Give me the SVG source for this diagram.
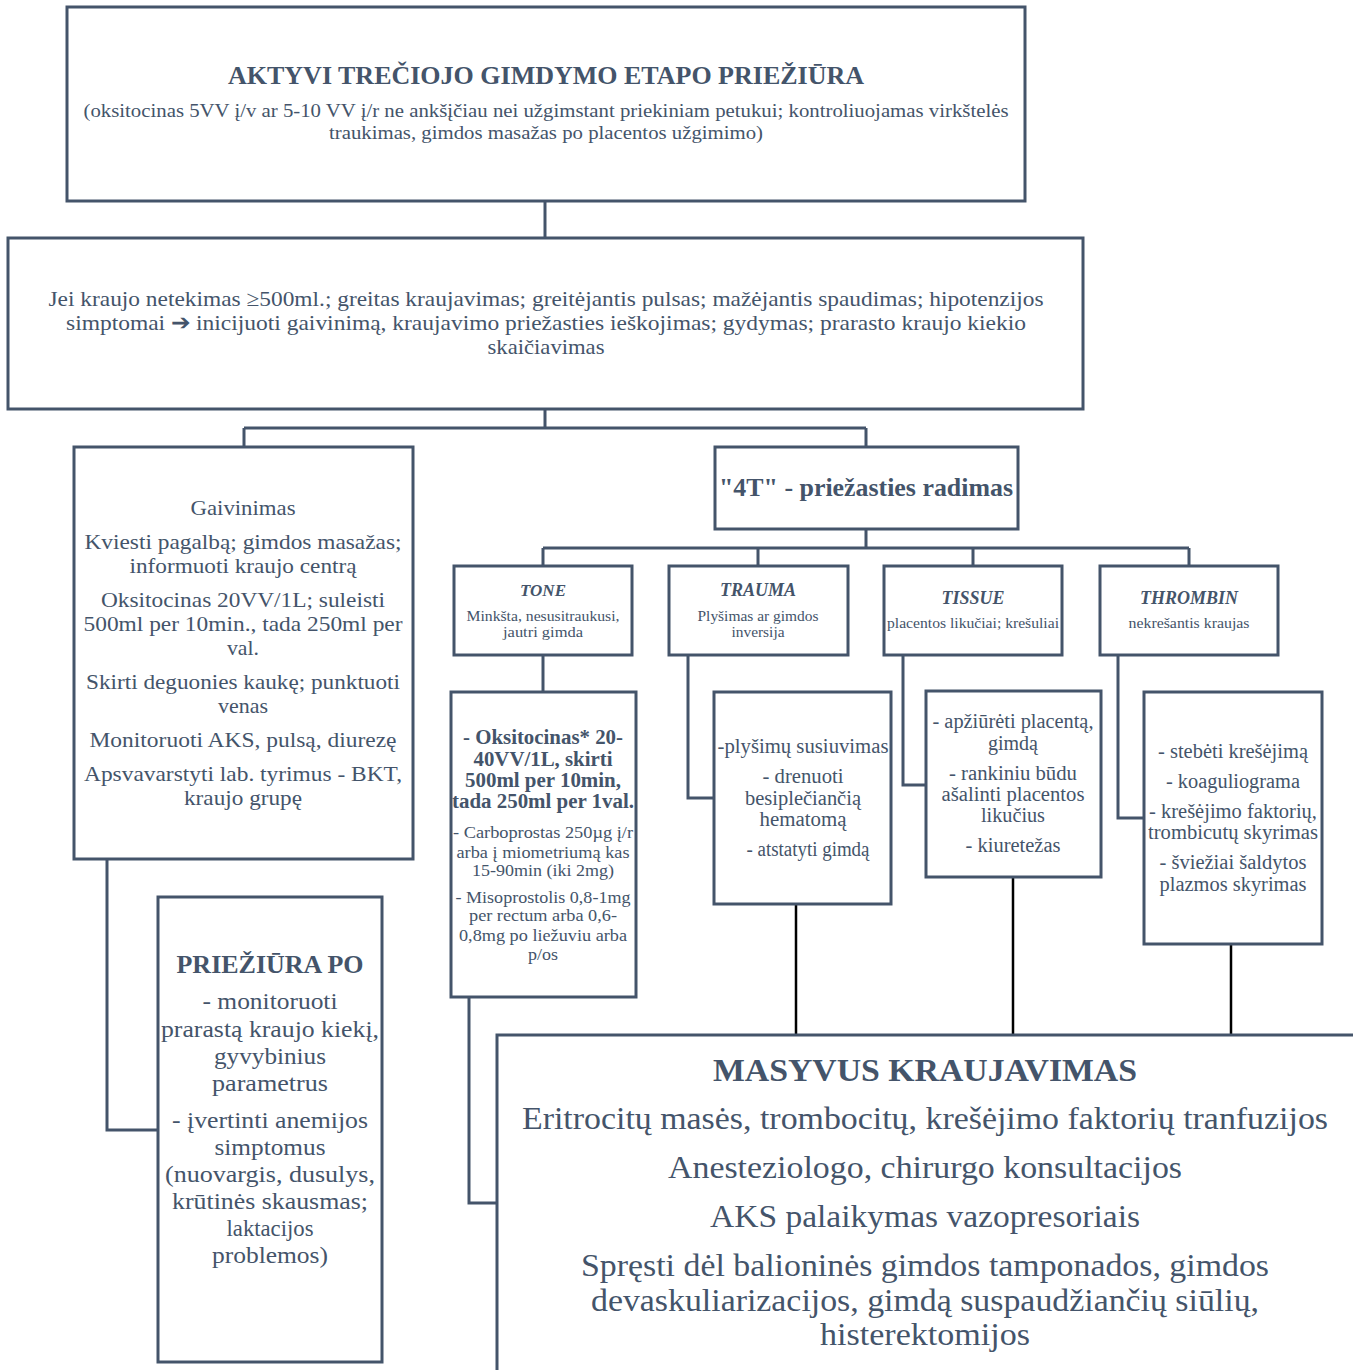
<svg xmlns="http://www.w3.org/2000/svg" width="1353" height="1370" viewBox="0 0 1353 1370">
<style>
.box{fill:#fff;stroke:#44546A;stroke-width:3}
.ln{fill:none;stroke:#44546A;stroke-width:3}
.lk{fill:none;stroke:#000;stroke-width:2.5}
text{font-family:"Liberation Serif","Times New Roman",serif;fill:#44546A;text-anchor:middle}
.b{font-weight:bold}
.bi{font-weight:bold;font-style:italic}
</style>
<rect width="1353" height="1370" fill="#fff"/>
<g id="connectors">
<path class="ln" d="M545 201V238"/>
<path class="ln" d="M545 409V428M244 428H866M244 428V447M866 428V447"/>
<path class="ln" d="M866 529V548M543 548H1189M543 548V566M758 548V566M973 548V566M1189 548V566"/>
<path class="ln" d="M543 655V692"/>
<path class="ln" d="M688 655V798H714"/>
<path class="ln" d="M903 655V785H926"/>
<path class="ln" d="M1118 655V818H1144"/>
<path class="ln" d="M107 859V1130H158"/>
<path class="ln" d="M469 997V1203H497"/>
<path class="lk" d="M796 904V1035M1013 877V1035M1231 944V1035"/>
</g>
<g id="top">
<rect class="box" x="67" y="7" width="958" height="194"/>
<text class="b" x="546" y="84" font-size="25" textLength="636" lengthAdjust="spacingAndGlyphs">AKTYVI TREČIOJO GIMDYMO ETAPO PRIEŽIŪRA</text>
<text x="546" y="117" font-size="19.5" textLength="925" lengthAdjust="spacingAndGlyphs">(oksitocinas 5VV į/v ar 5-10 VV į/r ne ankšįčiau nei užgimstant priekiniam petukui; kontroliuojamas virkštelės</text>
<text x="546" y="139" font-size="19.5" textLength="434" lengthAdjust="spacingAndGlyphs">traukimas, gimdos masažas po placentos užgimimo)</text>
</g>
<g id="criteria">
<rect class="box" x="8" y="238" width="1075" height="171"/>
<text x="546" y="306" font-size="22" textLength="995" lengthAdjust="spacingAndGlyphs">Jei kraujo netekimas ≥500ml.; greitas kraujavimas; greitėjantis pulsas; mažėjantis spaudimas; hipotenzijos</text>
<text x="546" y="330" font-size="22" textLength="960" lengthAdjust="spacingAndGlyphs">simptomai ➔ inicijuoti gaivinimą, kraujavimo priežasties ieškojimas; gydymas; prarasto kraujo kiekio</text>
<text x="546" y="354" font-size="22" textLength="117" lengthAdjust="spacingAndGlyphs">skaičiavimas</text>
</g>
<g id="gaivinimas">
<rect class="box" x="74" y="447" width="339" height="412"/>
<g font-size="22">
<text x="243" y="515" textLength="105" lengthAdjust="spacingAndGlyphs">Gaivinimas</text>
<text x="243" y="549" textLength="317" lengthAdjust="spacingAndGlyphs">Kviesti pagalbą; gimdos masažas;</text>
<text x="243" y="573" textLength="227" lengthAdjust="spacingAndGlyphs">informuoti kraujo centrą</text>
<text x="243" y="607" textLength="284" lengthAdjust="spacingAndGlyphs">Oksitocinas 20VV/1L; suleisti</text>
<text x="243" y="631" textLength="319" lengthAdjust="spacingAndGlyphs">500ml per 10min., tada 250ml per</text>
<text x="243" y="655" textLength="32" lengthAdjust="spacingAndGlyphs">val.</text>
<text x="243" y="689" textLength="314" lengthAdjust="spacingAndGlyphs">Skirti deguonies kaukę; punktuoti</text>
<text x="243" y="713" textLength="50" lengthAdjust="spacingAndGlyphs">venas</text>
<text x="243" y="747" textLength="307" lengthAdjust="spacingAndGlyphs">Monitoruoti AKS, pulsą, diurezę</text>
<text x="243" y="781" textLength="318" lengthAdjust="spacingAndGlyphs">Apsvavarstyti lab. tyrimus - BKT,</text>
<text x="243" y="805" textLength="118" lengthAdjust="spacingAndGlyphs">kraujo grupę</text>
</g>
</g>
<g id="fourT">
<rect class="box" x="715" y="447" width="303" height="82"/>
<text class="b" x="866" y="496" font-size="26" textLength="294" lengthAdjust="spacingAndGlyphs">"4T" - priežasties radimas</text>
</g>
<g id="tone">
<rect class="box" x="454" y="566" width="178" height="89"/>
<text class="bi" x="543" y="596" font-size="17">TONE</text>
<text x="543" y="621" font-size="15.5" textLength="153" lengthAdjust="spacingAndGlyphs">Minkšta, nesusitraukusi,</text>
<text x="543" y="637" font-size="15.5" textLength="80" lengthAdjust="spacingAndGlyphs">jautri gimda</text>
</g>
<g id="trauma">
<rect class="box" x="669" y="566" width="179" height="89"/>
<text class="bi" x="758" y="596" font-size="18">TRAUMA</text>
<text x="758" y="621" font-size="15.5" textLength="121" lengthAdjust="spacingAndGlyphs">Plyšimas ar gimdos</text>
<text x="758" y="637" font-size="15.5" textLength="53" lengthAdjust="spacingAndGlyphs">inversija</text>
</g>
<g id="tissue">
<rect class="box" x="884" y="566" width="178" height="89"/>
<text class="bi" x="973" y="604" font-size="18">TISSUE</text>
<text x="973" y="628" font-size="15.5" textLength="172" lengthAdjust="spacingAndGlyphs">placentos likučiai; krešuliai</text>
</g>
<g id="thrombin">
<rect class="box" x="1100" y="566" width="178" height="89"/>
<text class="bi" x="1189" y="604" font-size="18">THROMBIN</text>
<text x="1189" y="628" font-size="15.5" textLength="121" lengthAdjust="spacingAndGlyphs">nekrešantis kraujas</text>
</g>
<g id="tone-action">
<rect class="box" x="451" y="692" width="185" height="305"/>
<g class="b" font-size="20">
<text x="543" y="744" textLength="160" lengthAdjust="spacingAndGlyphs">- Oksitocinas* 20-</text>
<text x="543" y="766" textLength="139" lengthAdjust="spacingAndGlyphs">40VV/1L, skirti</text>
<text x="543" y="787" textLength="156" lengthAdjust="spacingAndGlyphs">500ml per 10min,</text>
<text x="543" y="808" textLength="182" lengthAdjust="spacingAndGlyphs">tada 250ml per 1val.</text>
</g>
<g font-size="17">
<text x="543" y="838" textLength="180" lengthAdjust="spacingAndGlyphs">- Carboprostas 250µg į/r</text>
<text x="543" y="858" textLength="173" lengthAdjust="spacingAndGlyphs">arba į miometriumą kas</text>
<text x="543" y="876" textLength="142" lengthAdjust="spacingAndGlyphs">15-90min (iki 2mg)</text>
<text x="543" y="903" textLength="175" lengthAdjust="spacingAndGlyphs">- Misoprostolis 0,8-1mg</text>
<text x="543" y="921" textLength="148" lengthAdjust="spacingAndGlyphs">per rectum arba 0,6-</text>
<text x="543" y="941" textLength="168" lengthAdjust="spacingAndGlyphs">0,8mg po liežuviu arba</text>
<text x="543" y="960" textLength="30" lengthAdjust="spacingAndGlyphs">p/os</text>
</g>
</g>
<g id="trauma-action">
<rect class="box" x="714" y="692" width="177" height="212"/>
<g font-size="20">
<text x="803" y="753" textLength="171" lengthAdjust="spacingAndGlyphs">-plyšimų susiuvimas</text>
<text x="803" y="783" textLength="81" lengthAdjust="spacingAndGlyphs">- drenuoti</text>
<text x="803" y="805" textLength="116" lengthAdjust="spacingAndGlyphs">besiplečiančią</text>
<text x="803" y="826" textLength="87" lengthAdjust="spacingAndGlyphs">hematomą</text>
<text x="808" y="856" textLength="123" lengthAdjust="spacingAndGlyphs">- atstatyti gimdą</text>
</g>
</g>
<g id="tissue-action">
<rect class="box" x="926" y="691" width="175" height="186"/>
<g font-size="20">
<text x="1013" y="728" textLength="161" lengthAdjust="spacingAndGlyphs">- apžiūrėti placentą,</text>
<text x="1013" y="750" textLength="50" lengthAdjust="spacingAndGlyphs">gimdą</text>
<text x="1013" y="780" textLength="128" lengthAdjust="spacingAndGlyphs">- rankiniu būdu</text>
<text x="1013" y="801" textLength="143" lengthAdjust="spacingAndGlyphs">ašalinti placentos</text>
<text x="1013" y="822" textLength="64" lengthAdjust="spacingAndGlyphs">likučius</text>
<text x="1013" y="852" textLength="95" lengthAdjust="spacingAndGlyphs">- kiuretežas</text>
</g>
</g>
<g id="thrombin-action">
<rect class="box" x="1144" y="692" width="178" height="252"/>
<g font-size="20">
<text x="1233" y="758" textLength="150" lengthAdjust="spacingAndGlyphs">- stebėti krešėjimą</text>
<text x="1233" y="788" textLength="134" lengthAdjust="spacingAndGlyphs">- koaguliograma</text>
<text x="1233" y="818" textLength="168" lengthAdjust="spacingAndGlyphs">- krešėjimo faktorių,</text>
<text x="1233" y="839" textLength="170" lengthAdjust="spacingAndGlyphs">trombicutų skyrimas</text>
<text x="1233" y="869" textLength="147" lengthAdjust="spacingAndGlyphs">- šviežiai šaldytos</text>
<text x="1233" y="891" textLength="147" lengthAdjust="spacingAndGlyphs">plazmos skyrimas</text>
</g>
</g>
<g id="prieziura-po">
<rect class="box" x="158" y="897" width="224" height="465"/>
<text class="b" x="270" y="973" font-size="25" textLength="187" lengthAdjust="spacingAndGlyphs">PRIEŽIŪRA PO</text>
<g font-size="24">
<text x="270" y="1009" textLength="135" lengthAdjust="spacingAndGlyphs">- monitoruoti</text>
<text x="270" y="1037" textLength="218" lengthAdjust="spacingAndGlyphs">prarastą kraujo kiekį,</text>
<text x="270" y="1064" textLength="112" lengthAdjust="spacingAndGlyphs">gyvybinius</text>
<text x="270" y="1091" textLength="116" lengthAdjust="spacingAndGlyphs">parametrus</text>
<text x="270" y="1128" textLength="196" lengthAdjust="spacingAndGlyphs">- įvertinti anemijos</text>
<text x="270" y="1155" textLength="111" lengthAdjust="spacingAndGlyphs">simptomus</text>
<text x="270" y="1182" textLength="210" lengthAdjust="spacingAndGlyphs">(nuovargis, dusulys,</text>
<text x="270" y="1209" textLength="196" lengthAdjust="spacingAndGlyphs">krūtinės skausmas;</text>
<text x="270" y="1236" textLength="87" lengthAdjust="spacingAndGlyphs">laktacijos</text>
<text x="270" y="1263" textLength="116" lengthAdjust="spacingAndGlyphs">problemos)</text>
</g>
</g>
<g id="masyvus">
<rect class="box" x="497" y="1035" width="860" height="340"/>
<text class="b" x="925" y="1081" font-size="32" textLength="424" lengthAdjust="spacingAndGlyphs">MASYVUS KRAUJAVIMAS</text>
<g font-size="32">
<text x="925" y="1129" textLength="806" lengthAdjust="spacingAndGlyphs">Eritrocitų masės, trombocitų, krešėjimo faktorių tranfuzijos</text>
<text x="925" y="1178" textLength="514" lengthAdjust="spacingAndGlyphs">Anesteziologo, chirurgo konsultacijos</text>
<text x="925" y="1227" textLength="430" lengthAdjust="spacingAndGlyphs">AKS palaikymas vazopresoriais</text>
<text x="925" y="1276" textLength="688" lengthAdjust="spacingAndGlyphs">Spręsti dėl balioninės gimdos tamponados, gimdos</text>
<text x="925" y="1311" textLength="668" lengthAdjust="spacingAndGlyphs">devaskuliarizacijos, gimdą suspaudžiančių siūlių,</text>
<text x="925" y="1345" textLength="210" lengthAdjust="spacingAndGlyphs">histerektomijos</text>
</g>
</g>
</svg>
